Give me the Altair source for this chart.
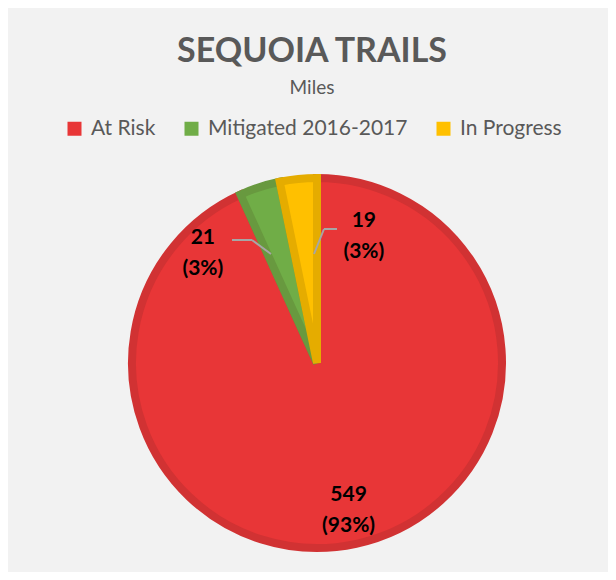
import altair as alt
import pandas as pd

categories = ["At Risk", "Mitigated 2016-2017", "In Progress"]
miles = [549, 21, 19]
pct_labels = ["549\n(93%)", "21\n(3%)", "19\n(3%)"]
fill_colors = ["#E83637", "#70AD47", "#FFC000"]
edge_colors = ["#D13233", "#68993F", "#E5AC00"]

df = pd.DataFrame({"category": categories, "miles": miles,
                   "label": pct_labels, "idx": list(range(len(categories)))})

FONT = "Lato"
W, H = 600, 564
CX, CY = 309, 355
R = 189
EDGE = 8
GREY = "#595959"

theta = alt.Theta("miles:Q", stack=True)
order = alt.Order("idx:Q")

base = alt.Chart(df)

pie = base.mark_arc(radius=R - EDGE / 2, strokeWidth=EDGE, strokeJoin="miter").encode(
    theta=theta,
    order=order,
    color=alt.Color("category:N", sort=categories,
                    scale=alt.Scale(domain=categories, range=fill_colors),
                    legend=alt.Legend(orient="none", legendX=56, legendY=110,
                                      direction="horizontal", title=None,
                                      symbolType="square", symbolSize=196,
                                      symbolStrokeWidth=0, labelFontSize=21,
                                      labelFont=FONT, labelColor=GREY, labelLimit=500,
                                      columnPadding=25, labelOffset=6, padding=0)),
    stroke=alt.Stroke("category:N", scale=alt.Scale(domain=categories, range=edge_colors),
                      legend=None),
    x=alt.value(CX), y=alt.value(CY),
)


def label_layer(cat, radius, dx, dy):
    return base.transform_window(
        cum="sum(miles)", sort=[alt.SortField("idx")]
    ).transform_joinaggregate(total="sum(miles)").transform_calculate(
        ang="2*PI*(datum.cum - datum.miles/2)/datum.total"
    ).transform_filter(alt.datum.category == cat).mark_text(
        radius=radius, dx=dx, dy=dy, font=FONT, fontSize=21, fontWeight="bold",
        color="black", lineBreak="\n", lineHeight=31, baseline="middle", align="center"
    ).encode(
        theta=alt.Theta("ang:Q", scale=None),
        text="label:N",
        x=alt.value(CX), y=alt.value(CY),
    )


lab_red = label_layer("At Risk", 149, 0, -14)
lab_green = label_layer("Mitigated 2016-2017", 120, -77, -11)
lab_yellow = label_layer("In Progress", 120, 59, -23)

one = alt.Chart(pd.DataFrame({"k": [0]}))


def seg(x1, y1, x2, y2, color="#A6A6A6", w=2):
    return one.mark_rule(color=color, strokeWidth=w).encode(
        x=alt.value(x1), y=alt.value(y1), x2=alt.value(x2), y2=alt.value(y2))


leaders = [
    seg(224, 232, 244, 232), seg(244, 232, 263, 246),
    seg(329, 221, 316, 221), seg(316, 221, 306, 246),
]

frame = [
    seg(-2, -2, W, -2, color="#D9D9D9", w=2),
    seg(-2, -2, -2, H, color="#D9D9D9", w=2),
]

title = one.mark_text(font=FONT, fontSize=34, fontWeight="bold", color=GREY,
                      align="center", baseline="alphabetic").encode(
    x=alt.value(304), y=alt.value(54), text=alt.value("SEQUOIA TRAILS"))
subtitle = one.mark_text(font=FONT, fontSize=19, color=GREY,
                         align="center", baseline="alphabetic").encode(
    x=alt.value(304), y=alt.value(86), text=alt.value("Miles"))

chart = alt.layer(
    *frame, pie, lab_red, lab_green, lab_yellow, *leaders, title, subtitle
).properties(
    width=W, height=H, background="#F2F2F2", padding=0,
    autosize=alt.AutoSizeParams(type="none"),
).configure_view(strokeWidth=0)

chart.save("out.html", embed_options={"renderer": "svg", "actions": False})
